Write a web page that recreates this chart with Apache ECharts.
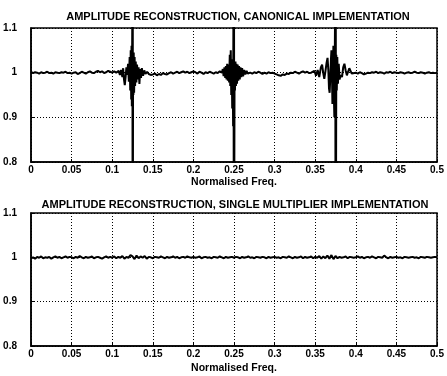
<!DOCTYPE html>
<html>
<head>
<meta charset="utf-8">
<script src="https://cdn.jsdelivr.net/npm/echarts@6/dist/echarts.min.js"></script>
<style>
  html, body { margin: 0; padding: 0; background: #fff; }
  #chart { width: 447px; height: 376px; }
</style>
</head>
<body>
<div id="chart"></div>
<script>
  // frequency step of the sampled curves
  var step = 0.0025;

  var xTicks = [0, 0.05, 0.1, 0.15, 0.2, 0.25, 0.3, 0.35, 0.4, 0.45, 0.5];
  var yTicks = [0.8, 0.9, 1, 1.1];

  // canonical implementation, flat parts (x = i * step)
  var canonBase = [
    1.002,0.999,1.001,1.000,0.998,1.001,0.999,1.000,1.002,0.999,1.000,0.998,1.001,1.000,0.999,1.001,1.000,1.002,0.999,1.000,
    0.998,1.000,1.001,0.997,0.999,1.002,1.000,0.998,1.001,1.003,1.000,0.999,1.002,1.004,1.001,1.003,0.999,1.001,1.004,1.002,
    1.000,1.003,1.000,1.000,1.000,1.000,1.000,1.000,1.000,1.000,1.000,1.000,1.000,1.000,1.000,1.000,1.000,1.000,0.997,0.995,
    0.996,0.998,0.994,0.997,0.995,0.999,0.997,0.996,0.999,1.001,0.998,1.000,1.002,0.999,1.001,1.003,1.000,1.002,0.999,1.001,
    1.003,1.001,0.998,1.002,1.000,0.997,1.001,0.999,1.002,1.000,0.998,1.001,0.999,1.003,1.000,1.000,1.000,1.000,1.000,1.000,
    1.000,1.000,1.000,1.000,1.000,1.000,1.000,1.000,1.000,0.998,1.001,0.999,1.002,1.000,0.997,1.000,0.998,1.001,0.999,1.000,
    0.998,0.996,0.994,0.993,0.996,0.995,0.998,0.997,1.000,0.999,1.002,1.000,0.998,1.001,1.003,1.000,1.002,0.999,1.001,1.000,
    1.000,1.000,1.000,1.000,1.000,1.000,1.000,1.000,1.000,1.000,1.000,1.000,1.000,1.000,1.000,1.000,1.000,1.000,1.000,1.000,
    1.000,0.998,1.001,0.999,0.996,0.998,1.000,0.999,1.001,1.000,1.002,0.999,1.001,1.000,0.998,1.001,1.000,1.002,0.999,1.001,
    1.000,0.999,1.001,1.000,0.998,1.000,1.001,0.999,1.000,1.002,1.000,0.999,1.001,1.000,0.998,1.000,1.001,0.999,1.000,0.999,1.000
  ];

  // canonical implementation around the three band edges [freq, amplitude]
  var canonEdge1 = [
    [0.1050,1.001],[0.1065,0.997],[0.1080,1.004],[0.1095,0.995],[0.1110,1.006],[0.1125,0.990],[0.1135,1.010],[0.1145,0.985],
    [0.1155,0.972],[0.1165,0.990],[0.1175,1.012],[0.1185,0.995],[0.1195,1.020],[0.1205,0.980],[0.1215,1.035],[0.1222,0.960],
    [0.1228,1.050],[0.1234,0.940],[0.1238,1.060],[0.1242,0.925],[0.1246,1.055],[0.1249,1.20],[0.1251,0.70],[0.1253,1.20],
    [0.1255,0.70],[0.1257,1.040],[0.1261,0.950],[0.1265,1.045],[0.1270,0.955],[0.1276,1.035],[0.1282,0.970],[0.1290,1.025],
    [0.1298,0.978],[0.1306,1.018],[0.1315,0.985],[0.1325,1.012],[0.1335,0.975],[0.1345,1.008],[0.1355,0.988],[0.1365,1.010],
    [0.1380,0.993],[0.1395,1.005],[0.1410,0.997],[0.1430,1.002],[0.1450,0.997]
  ];
  var canonEdge2 = [
    [0.2350,1.000],[0.2362,1.008],[0.2372,0.992],[0.2382,1.012],[0.2392,0.988],[0.2400,1.015],[0.2408,0.985],[0.2416,1.020],
    [0.2424,0.982],[0.2432,1.018],[0.2440,0.978],[0.2448,1.040],[0.2454,0.970],[0.2460,1.050],[0.2466,0.950],[0.2472,1.030],
    [0.2478,0.920],[0.2484,1.010],[0.2489,0.880],[0.2494,1.20],[0.2497,0.70],[0.2500,1.20],[0.2503,0.70],[0.2507,1.020],
    [0.2512,0.960],[0.2518,1.025],[0.2524,0.970],[0.2530,1.020],[0.2537,0.975],[0.2545,1.018],[0.2553,0.982],[0.2562,1.015],
    [0.2571,0.985],[0.2580,1.012],[0.2590,0.990],[0.2600,1.010],[0.2612,0.992],[0.2625,1.006],[0.2640,0.996],[0.2655,1.004],
    [0.2670,0.998],[0.2700,1.001]
  ];
  var canonEdge3 = [
    [0.3450,1.000],[0.3470,0.996],[0.3490,1.004],[0.3510,0.993],[0.3530,1.006],[0.3550,0.990],[0.3570,1.012],[0.3585,1.018],
    [0.3600,0.998],[0.3612,0.986],[0.3625,1.002],[0.3640,1.022],[0.3652,1.033],[0.3662,1.005],[0.3670,0.965],[0.3678,0.955],
    [0.3686,0.990],[0.3694,1.030],[0.3700,1.050],[0.3706,1.010],[0.3712,0.930],[0.3718,0.990],[0.3724,1.060],[0.3730,0.950],
    [0.3736,0.900],[0.3742,1.055],[0.3747,1.20],[0.3750,0.70],[0.3753,1.20],[0.3756,0.70],[0.3760,1.040],[0.3766,0.960],
    [0.3772,1.035],[0.3780,0.975],[0.3790,1.020],[0.3800,0.985],[0.3815,0.995],[0.3830,0.990],[0.3845,1.012],[0.3860,1.020],
    [0.3875,1.005],[0.3890,0.994],[0.3905,1.002],[0.3920,1.010],[0.3935,1.004],[0.3950,0.998],[0.3970,1.002],[0.4000,1.000]
  ];

  // single multiplier implementation (x = i * step)
  var singleMult = [
    0.998,1.000,0.997,1.001,0.999,1.002,0.998,1.000,0.999,1.001,0.997,1.000,1.002,0.999,1.001,0.998,1.000,1.002,0.999,1.001,
    1.000,0.998,1.001,0.999,1.003,1.000,0.998,1.001,0.999,1.000,1.002,0.998,1.000,1.001,0.999,0.997,1.000,1.002,0.999,1.001,
    0.999,1.002,0.998,1.001,0.999,1.003,0.997,1.001,0.999,1.005,1.002,0.996,1.004,0.998,1.002,0.999,1.003,0.997,1.001,1.000,
    0.998,1.001,1.000,0.999,1.002,1.000,0.998,1.001,0.999,1.000,1.002,0.999,1.001,0.998,1.000,1.001,0.999,1.002,1.000,0.999,
    1.001,0.999,1.000,1.002,0.998,1.000,1.001,0.999,1.000,0.998,1.001,1.000,0.999,1.002,1.000,0.998,1.001,0.999,1.000,1.001,
    0.999,1.001,1.000,0.998,1.001,0.999,1.000,1.002,0.999,1.000,0.998,1.001,1.000,0.999,1.001,1.000,0.998,1.001,0.999,1.000,
    1.001,0.999,1.000,0.998,1.001,1.000,0.999,1.002,1.000,0.998,1.001,0.999,1.000,1.002,0.998,1.001,0.999,1.000,1.002,0.998,
    1.001,0.999,1.003,0.997,1.002,0.998,1.004,0.997,1.005,0.996,1.003,0.998,1.001,0.999,1.000,1.002,0.998,1.001,1.000,0.999,
    1.000,1.002,0.999,1.001,0.998,1.000,1.001,0.999,1.002,1.000,0.998,1.001,1.000,0.999,1.004,1.000,0.998,1.001,0.999,1.000,
    1.001,0.999,1.000,0.998,1.001,1.000,0.999,1.000,1.001,0.999,1.000,0.998,1.001,1.000,0.999,1.001,1.000,0.999,1.000,1.001,1.000
  ];

  var titles = ['AMPLITUDE RECONSTRUCTION, CANONICAL IMPLEMENTATION',
                'AMPLITUDE RECONSTRUCTION, SINGLE MULTIPLIER IMPLEMENTATION'];
  var xName = 'Normalised Freq.';

  function buildCanon() {
    var edges = [canonEdge1, canonEdge2, canonEdge3];
    var pts = [];
    canonBase.forEach(function (y, i) {
      var x = i * step;
      var inside = edges.some(function (e) { return x > e[0][0] && x < e[e.length - 1][0]; });
      if (!inside) pts.push([x, y]);
    });
    edges.forEach(function (e) { pts = pts.concat(e); });
    pts.sort(function (a, b) { return a[0] - b[0]; });
    return pts;
  }

  function buildSingle() {
    return singleMult.map(function (y, i) { return [i * step, y]; });
  }

  var font = 'Liberation Sans';

  function xAxis(idx, gap) {
    return {
      type: 'value', gridIndex: idx,
      min: xTicks[0], max: xTicks[xTicks.length - 1], interval: 0.05,
      name: xName, nameLocation: 'middle', nameGap: gap,
      nameTextStyle: { color: '#000', fontSize: 10.5, fontWeight: 'bold', fontFamily: font },
      axisLine: { lineStyle: { color: '#000', width: 1.5 } },
      axisTick: { inside: true, length: 3, lineStyle: { color: '#000' } },
      axisLabel: {
        color: '#000', fontSize: 10, fontWeight: 'bold', fontFamily: font, margin: 3,
        formatter: function (v) { return String(+v.toFixed(2)); }
      },
      splitLine: { show: true, lineStyle: { color: '#000', type: [1, 2], width: 1 } }
    };
  }

  function yAxis(idx) {
    return {
      type: 'value', gridIndex: idx,
      min: yTicks[0], max: yTicks[yTicks.length - 1], interval: 0.1,
      axisLine: { show: true, lineStyle: { color: '#000', width: 1.5 } },
      axisTick: { show: true, inside: true, length: 3, lineStyle: { color: '#000' } },
      axisLabel: {
        color: '#000', fontSize: 10, fontWeight: 'bold', fontFamily: font, margin: 14,
        formatter: function (v) { return String(+v.toFixed(1)); }
      },
      splitLine: { show: true, lineStyle: { color: '#000', type: [1, 2], width: 1 } }
    };
  }

  var chart = echarts.init(document.getElementById('chart'));
  chart.setOption({
    backgroundColor: '#fff',
    animation: false,
    title: [{
      text: titles[0], left: 233, top: 6, textAlign: 'center',
      textStyle: { color: '#000', fontSize: 11, fontWeight: 'bold', fontFamily: font }
    }, {
      text: titles[1], left: 230, top: 194, textAlign: 'center',
      textStyle: { color: '#000', fontSize: 11, fontWeight: 'bold', fontFamily: font }
    }],
    grid: [
      { left: 31, right: 10, top: 28, height: 134, show: true, borderColor: '#000', borderWidth: 1.5, backgroundColor: '#fff' },
      { left: 31, right: 10, top: 213, height: 133, show: true, borderColor: '#000', borderWidth: 1.5, backgroundColor: '#fff' }
    ],
    xAxis: [xAxis(0, 15), xAxis(1, 17)],
    yAxis: [yAxis(0), yAxis(1)],
    series: [{
      type: 'line', xAxisIndex: 0, yAxisIndex: 0,
      showSymbol: false, symbol: 'none',
      lineStyle: { color: '#000', width: 2 },
      data: buildCanon()
    }, {
      type: 'line', xAxisIndex: 1, yAxisIndex: 1,
      showSymbol: false, symbol: 'none',
      lineStyle: { color: '#000', width: 2 },
      data: buildSingle()
    }]
  });
</script>
</body>
</html>
